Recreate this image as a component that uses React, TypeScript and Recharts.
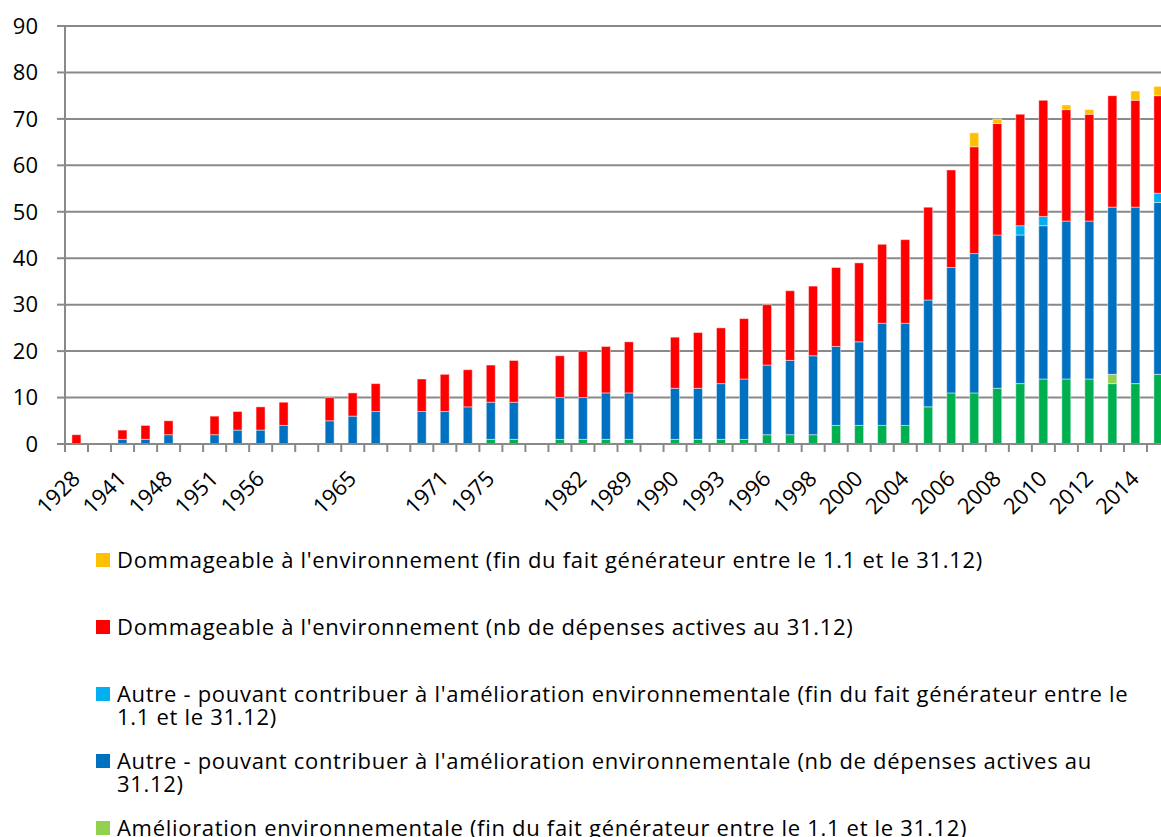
import { BarChart, Bar, XAxis, YAxis, CartesianGrid } from "recharts";

// category labels (only every other one is printed on the axis; blank = unlabeled / separator row)
const categories = [
  "1928", "", "1941", "", "1948", "", "1951", "", "1956", "",
  "", "", "1965", "", "", "", "1971", "", "1975", "",
  "", "", "1982", "", "1989", "", "1990", "", "1993", "",
  "1996", "", "1998", "", "2000", "", "2004", "", "2006", "",
  "2008", "", "2010", "", "2012", "", "2014", "",
];

const ameliorationNb = [
  0, 0, 0, 0, 0, 0, 0, 0, 0, 0,
  0, 0, 0, 0, 0, 0, 0, 0, 1, 1,
  0, 1, 1, 1, 1, 0, 1, 1, 1, 1,
  2, 2, 2, 4, 4, 4, 4, 8, 11, 11,
  12, 13, 14, 14, 14, 13, 13, 15,
];
const ameliorationFin = [
  0, 0, 0, 0, 0, 0, 0, 0, 0, 0,
  0, 0, 0, 0, 0, 0, 0, 0, 0, 0,
  0, 0, 0, 0, 0, 0, 0, 0, 0, 0,
  0, 0, 0, 0, 0, 0, 0, 0, 0, 0,
  0, 0, 0, 0, 0, 2, 0, 0,
];
const autreNb = [
  0, 0, 1, 1, 2, 0, 2, 3, 3, 4,
  0, 5, 6, 7, 0, 7, 7, 8, 8, 8,
  0, 9, 9, 10, 10, 0, 11, 11, 12, 13,
  15, 16, 17, 17, 18, 22, 22, 23, 27, 30,
  33, 32, 33, 34, 34, 36, 38, 37,
];
const autreFin = [
  0, 0, 0, 0, 0, 0, 0, 0, 0, 0,
  0, 0, 0, 0, 0, 0, 0, 0, 0, 0,
  0, 0, 0, 0, 0, 0, 0, 0, 0, 0,
  0, 0, 0, 0, 0, 0, 0, 0, 0, 0,
  0, 2, 2, 0, 0, 0, 0, 2,
];
const dommageableNb = [
  2, 0, 2, 3, 3, 0, 4, 4, 5, 5,
  0, 5, 5, 6, 0, 7, 8, 8, 8, 9,
  0, 9, 10, 10, 11, 0, 11, 12, 12, 13,
  13, 15, 15, 17, 17, 17, 18, 20, 21, 23,
  24, 24, 25, 24, 23, 24, 23, 21,
];
const dommageableFin = [
  0, 0, 0, 0, 0, 0, 0, 0, 0, 0,
  0, 0, 0, 0, 0, 0, 0, 0, 0, 0,
  0, 0, 0, 0, 0, 0, 0, 0, 0, 0,
  0, 0, 0, 0, 0, 0, 0, 0, 0, 3,
  1, 0, 0, 1, 1, 0, 2, 2,
];

const yTicks = [0, 10, 20, 30, 40, 50, 60, 70, 80, 90];

// stacking order, bottom to top
const series = [
  { key: "amelNb", values: ameliorationNb, color: "#00B050", name: "Amélioration environnementale (nb de dépenses actives au 31.12)" },
  { key: "amelFin", values: ameliorationFin, color: "#92D050", name: "Amélioration environnementale (fin du fait générateur entre le 1.1 et le 31.12)" },
  { key: "autreNb", values: autreNb, color: "#0070C0", name: "Autre - pouvant contribuer à l'amélioration environnementale (nb de dépenses actives au 31.12)" },
  { key: "autreFin", values: autreFin, color: "#00B0F0", name: "Autre - pouvant contribuer à l'amélioration environnementale (fin du fait générateur entre le 1.1 et le 31.12)" },
  { key: "dommNb", values: dommageableNb, color: "#FF0000", name: "Dommageable à l'environnement (nb de dépenses actives au 31.12)" },
  { key: "dommFin", values: dommageableFin, color: "#FFC000", name: "Dommageable à l'environnement (fin du fait générateur entre le 1.1 et le 31.12)" },
];

const data = categories.map((year, i) => {
  const row: Record<string, string | number> = { year };
  series.forEach((s) => (row[s.key] = s.values[i]));
  return row;
});

const GRID = "#898989";
const FONT = "'Open Sans', Lato, sans-serif";

function CategoryTick(props: any) {
  const { x, y, payload, width, visibleTicksCount } = props;
  const step = width && visibleTicksCount ? width / visibleTicksCount : 23;
  const bx = x - step / 2;
  const tx = x + 5;
  const ty = y + 36;
  return (
    <g>
      <line x1={bx} y1={y} x2={bx} y2={y + 8} stroke={GRID} strokeWidth={2} />
      {payload.value ? (
        <text
          x={tx}
          y={ty}
          transform={`rotate(-45 ${tx} ${ty})`}
          textAnchor="end"
          fontSize={22}
          fill="#000"
        >
          {payload.value}
        </text>
      ) : null}
    </g>
  );
}

export default function App() {
  const legendItems = [...series].reverse();
  return (
    <div
      style={{
        position: "absolute",
        left: 0,
        top: 0,
        width: 1161,
        height: 837,
        overflow: "hidden",
        background: "#fff",
        fontFamily: FONT,
      }}
    >
      <BarChart
        width={1175}
        height={534}
        data={data}
        margin={{ top: 26, right: 5, left: 0, bottom: 0 }}
        barCategoryGap="30%"
      >
        <CartesianGrid vertical={false} stroke={GRID} strokeWidth={2} />
        <XAxis
          dataKey="year"
          interval={0}
          height={90}
          tickLine={false}
          tickSize={0}
          tickMargin={0}
          axisLine={{ stroke: GRID, strokeWidth: 2 }}
          tick={<CategoryTick />}
        />
        <YAxis
          width={65}
          domain={[0, 90]}
          ticks={yTicks}
          interval={0}
          tickSize={8}
          tickMargin={19}
          axisLine={{ stroke: GRID, strokeWidth: 2 }}
          tickLine={{ stroke: GRID, strokeWidth: 2 }}
          tick={{ fill: "#000", fontSize: 22 }}
        />
        {series.map((s) => (
          <Bar
            key={s.key}
            dataKey={s.key}
            name={s.name}
            stackId="a"
            fill={s.color}
            stroke="rgba(255,255,255,0.45)"
            strokeWidth={1}
            isAnimationActive={false}
          />
        ))}
      </BarChart>
      <div style={{ position: "absolute", left: 96, top: 548 }}>
        {legendItems.map((s) => (
          <div key={s.key} style={{ display: "flex", alignItems: "flex-start", height: 67 }}>
            <span
              style={{
                display: "inline-block",
                width: 14,
                height: 14,
                marginTop: 5,
                marginRight: 7,
                background: s.color,
                flex: "none",
              }}
            />
            <span
              style={{
                width: 1030,
                fontSize: 22,
                letterSpacing: "0.7px",
                lineHeight: "23px",
                color: "#000",
              }}
            >
              {s.name}
            </span>
          </div>
        ))}
      </div>
    </div>
  );
}
